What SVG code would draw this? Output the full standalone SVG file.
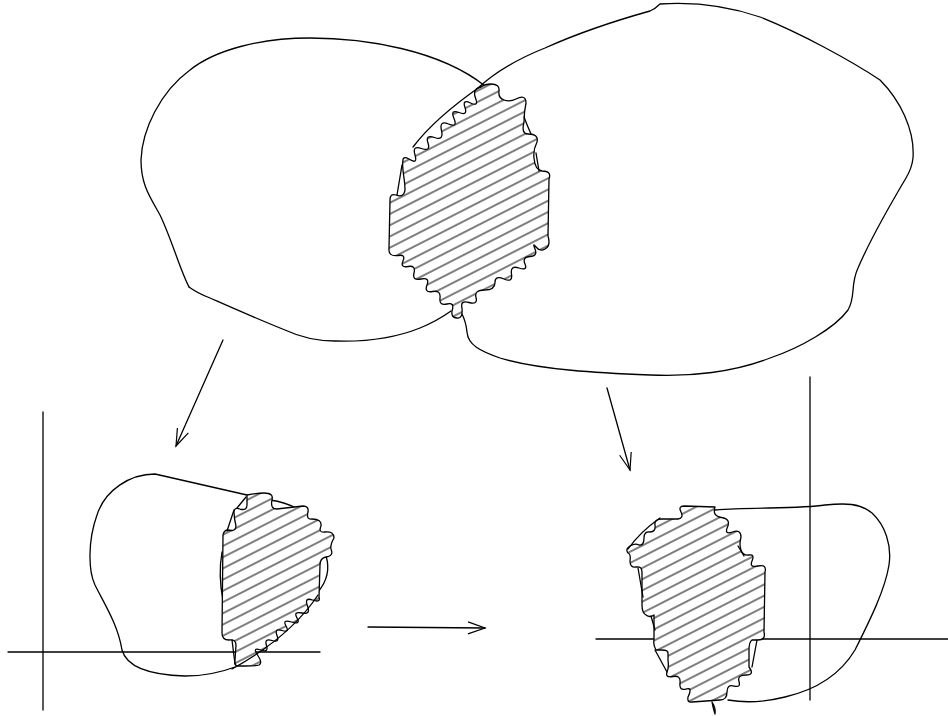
<svg xmlns="http://www.w3.org/2000/svg" width="948" height="716" viewBox="0 0 948 716">
<style>
.l{fill:none;stroke:#000;stroke-width:1.3;stroke-linecap:round;stroke-linejoin:round}
.h{stroke:#000;stroke-width:1.3;stroke-linejoin:round}
</style>
<defs>
<pattern id="hatch" width="40" height="10" patternUnits="userSpaceOnUse" patternTransform="translate(0 3) rotate(-27)">
<rect width="40" height="10" fill="#fff"/>
<line x1="0" y1="5" x2="40" y2="5" stroke="#000" stroke-width="1.2"/>
</pattern>
<marker id="vee" markerWidth="24" markerHeight="16" refX="20" refY="8" orient="auto" markerUnits="userSpaceOnUse">
<path d="M3,2 L20,8 L3,14" fill="none" stroke="#000" stroke-width="1.2"/>
</marker>
</defs>
<rect width="948" height="716" fill="#fff"/>
<g id="connectors">
<path class="l" d="M223,340 L176,446" marker-end="url(#vee)"/>
<path class="l" d="M607,388 L630,470" marker-end="url(#vee)"/>
<path class="l" d="M368,627 L485,628" marker-end="url(#vee)"/>
</g>
<g id="top-overlap">
<path class="l" d="M189,287 Q197,293 210,298 C235,309 262,321 285,330 C300,337 315,341 335,341 C365,342 395,338 420,328 Q437,321 451,311"/>
<path class="l" d="M189,287 C180,270 172,240 160,215 C150,197 141,185 141,160 C142,130 160,92 190,70 C215,50 260,38 310,38 C365,38 440,50 485,86"/>
<path class="l" d="M478,88 C495,72 520,58 545,48 C585,30 625,18 650,11 Q655,9 660,4 C690,2 725,5 760,17 C800,33 850,60 880,80 C900,100 915,130 913,158 Q912,168 906,178 C890,205 870,240 858,268 C850,285 856,297 848,310 C835,328 800,348 770,358 C735,372 690,377 650,375 C600,373 540,370 500,358 C480,351 468,345 467,332 Q466,322 462,314"/>
<path class="h" fill="url(#hatch)" d="M481,87 Q485,84 491,84 Q500,84 499,91 Q498,98 504,100 Q510,102 516,99 Q526,94 526,103 Q524,112 524,122 Q521,134 528,134 Q539,134 537,142 Q533,150 534,158 Q535,170 542,171 Q552,171 549,179 L548,236 Q551,246 545,249 Q540,252 536,247 Q532,242 535,249 Q538,256 530,256.5 Q522,257 525,264 Q528,271 519,268 Q510,265 511.5,274 Q513,283 504,279 Q495,275 495,282.5 Q495,290 484.5,290 Q474,290 476,297.5 Q478,305 469,302.5 Q460,300 462,308 Q463,319 457,318 Q451,318 452,311 Q455,302 447,304 Q439,306 440,298 Q441,290 432.5,291.5 Q424,293 427,285 Q430,277 421,279 Q412,281 414,273 Q416,265 408,266.5 Q400,268 403,261 Q406,254 398,255.5 Q388,257 389,248 L390,200 Q390,193 396,195 Q404,198 405,190 Q405,184 404,178 Q402,165 403,160 Q403,156 409,159 Q418,165 415,155 Q412,145 421.5,148.5 Q431,152 428,143 Q425,134 434.5,137.5 Q444,141 441.5,130.5 Q439,120 448.5,124 Q458,128 454,118.5 Q450,109 459,112.5 Q468,116 465,107.5 Q462,99 470.5,103 Q479,107 475.5,98 Q472,89 481,87 Z"/>
<path class="l" d="M413,147 Q435,118 481,86"/>
<path class="l" d="M402,165 L397,195"/>
<path class="l" d="M524,117 Q527,125 531,134"/>
<path class="l" d="M536,153 L539,171"/>
</g>
<g id="left-view">
<path class="l" d="M43,412 V710"/>
<path class="l" d="M8,652 H320"/>
<path class="l" d="M247,495 L155,474 C130,474 105,490 97,515 C88,540 88,570 95,585 C105,605 118,625 122,650 C127,668 150,675 185,676 C205,676 222,672 235,667"/>
<path class="l" d="M270,500 Q285,502 298,509"/>
<path class="l" d="M326,556 Q332,575 318,592"/>
<path class="l" d="M222,552 Q218,575 223,600"/>
<path class="h" fill="url(#hatch)" d="M247,495 Q258,493 264,493 Q274,493 272,500 Q270,509 277,509 L303,506 Q309,506 308,512 Q306,520 312,519 Q322,519 321,526 Q318,533 325,532 Q334,531 334,538 Q330,545 331,549 Q334,556 326,557 Q320,558 320,565 L319,597 Q321,603 312.5,600 Q304,597 307.5,606 Q311,615 302,613 Q293,611 297,618 Q301,625 291.5,622 Q282,619 286,626 Q290,633 282,630.5 Q274,628 277,635.5 Q280,643 272,640.5 Q264,638 266.5,645.5 Q269,653 260.5,650 Q252,647 257.5,655 Q263,663 259,665 Q256,666 245,666 L237,666 Q234,665 235,660 L236,645 Q236,639 229,640 Q222,640 222,633 L223,535 Q224,530 228,530 Q236,532 236,526 Q234,518 234,512 Q234,507 240,509 Q247,511 247,505 Z"/>
<path class="l" d="M318,595 Q290,637 232,669"/>
<path class="l" d="M232,640 L235,664"/>
<path class="l" d="M234,510 L227,531"/>
<path class="l" d="M246,497 L237,508"/>
</g>
<g id="right-view">
<path class="l" d="M810,377 V700"/>
<path class="l" d="M596,639 H948"/>
<path class="l" d="M715,510 C755,507 800,509 825,505 C845,503 860,503 872,513 C885,525 892,545 889,565 C885,590 870,620 855,650 C840,675 815,690 785,697 C765,702 745,703 728,700"/>
<path class="h" fill="url(#hatch)" d="M715,507 Q712,516 721.5,517.5 Q731,519 727.5,527 Q724,535 732.5,532 Q741,529 741,537 Q739,545 741,550 Q743,556 749,555 Q755,554 752,561 Q749,568 758,566 Q767,564 765,572 L764,632 Q766,640 758,640 L752,640 Q749,642 749,650 L749,667 Q755,675 746,675 Q737,675 739,681.5 Q741,688 734,686 Q727,684 727,692 Q727,700 720,700 L692,702 Q687,703 688,697 Q693,687 686,689 Q679,691 680,683 Q681,675 673,676.5 Q665,678 667,672 Q669,668 668,660 L668,653 Q668,650 662,650 L656,650 Q653,645 654,640 L654,615 Q650,618 646,615 Q642,613 642,605 L642,572 Q642,566 636,567 Q630,568 630,561 Q631,554 628,553 Q625,549 630,546 Q635,543 639,545 Q644,546 644,538 Q644,531 650,532 Q656,532 655,525 Q654,519 662,519 L678,519 Q684,518 681,512 Q678,506 684,506 Z"/>
<path class="l" d="M628,549 Q640,532 660,518"/>
<path class="l" d="M655,650 L667,672"/>
<path class="l" d="M651,616 L655,630"/>
<path class="l" d="M638,568 L643,597"/>
<path class="l" d="M757,640 L752,667"/>
<path class="l" d="M738,546 L744,556"/>
<path class="l" d="M712,702 Q716,708 715,714 Q713,708 712,702"/>
</g>
</svg>
